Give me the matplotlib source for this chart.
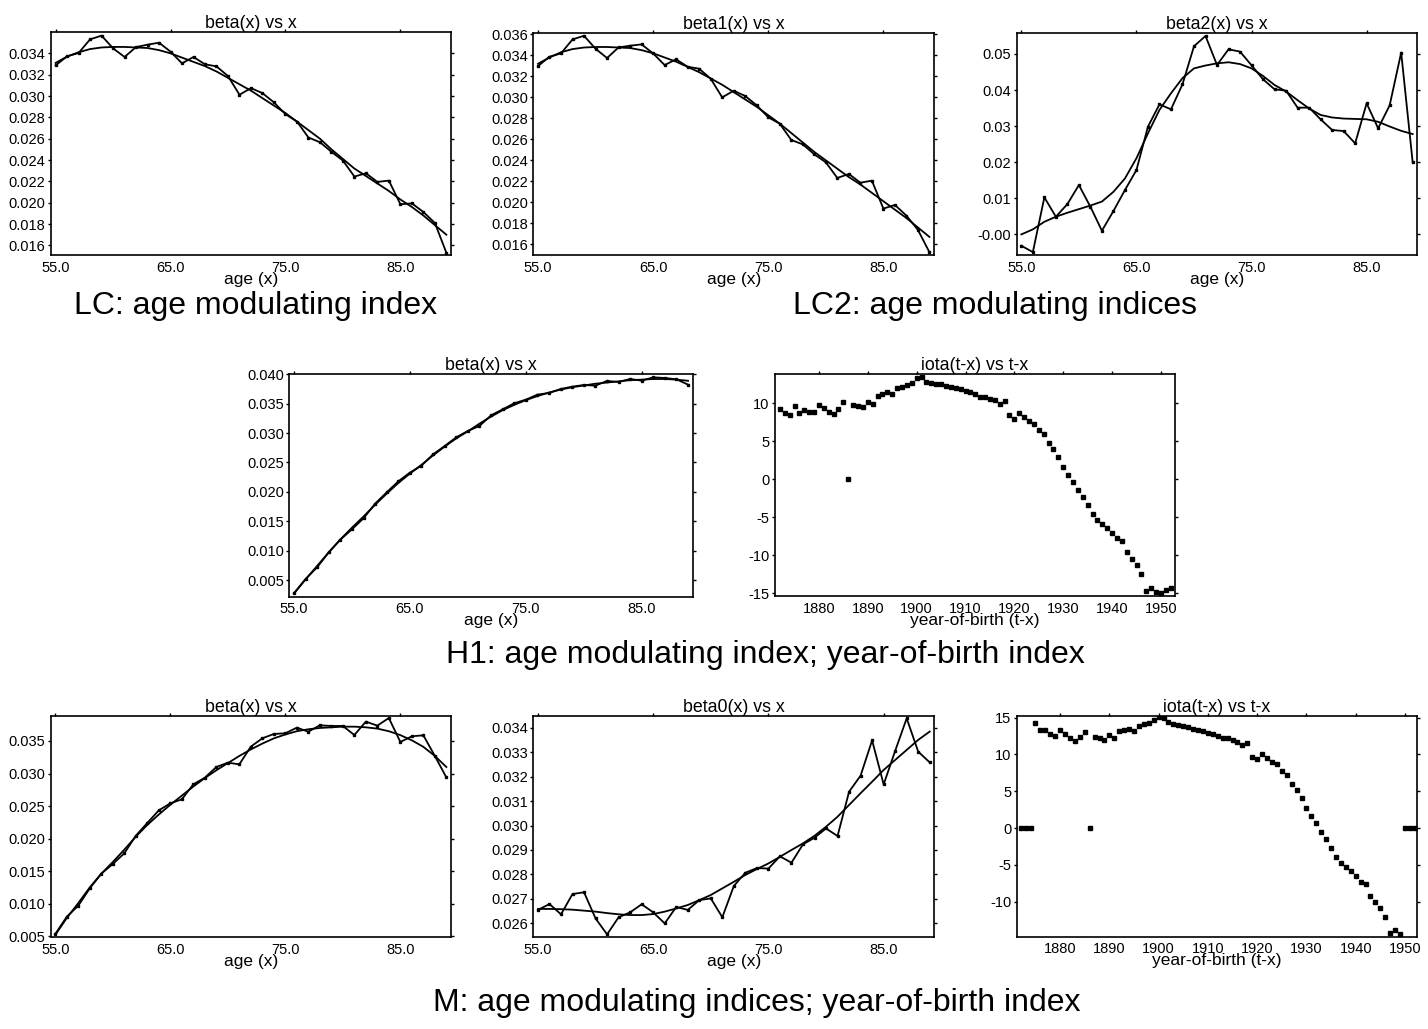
import matplotlib
matplotlib.use("Agg")
from matplotlib import pyplot as plt

plt.rcParams['font.family'] = ['Liberation Sans', 'DejaVu Sans']
plt.rcParams['axes.unicode_minus'] = False

ages = list(range(55, 90))
cohorts = list(range(1872, 1953))

# LC: beta(x)
lc_beta = [0.03287, 0.03372, 0.03403, 0.03531, 0.03566, 0.03447, 0.03366, 0.03459, 0.03481, 0.03500,
           0.03416, 0.03306, 0.03366, 0.03297, 0.03278, 0.03187, 0.03012, 0.03074, 0.03027, 0.02940,
           0.02830, 0.02761, 0.02611, 0.02567, 0.02477, 0.02395, 0.02245, 0.02276, 0.02195, 0.02207,
           0.01985, 0.01994, 0.01913, 0.01810, 0.01531]
lc_beta_fit = [0.0331, 0.0337, 0.0341, 0.0344, 0.03455, 0.0346, 0.0346, 0.03455, 0.0345, 0.0343,
               0.0340, 0.0336, 0.0332, 0.0328, 0.0323, 0.0317, 0.0311, 0.0305, 0.0298, 0.0291,
               0.0284, 0.0276, 0.0268, 0.0260, 0.0250, 0.0241, 0.0232, 0.0225, 0.0218, 0.0211,
               0.0203, 0.0196, 0.0188, 0.0179, 0.0170]

# LC2: beta1(x), beta2(x)
lc2_beta1 = [0.03298, 0.03387, 0.03419, 0.03552, 0.03587, 0.03463, 0.03375, 0.03476, 0.03492, 0.03505,
             0.03419, 0.03308, 0.03362, 0.03292, 0.03273, 0.03178, 0.03000, 0.03063, 0.03013, 0.02924,
             0.02810, 0.02749, 0.02594, 0.02552, 0.02457, 0.02381, 0.02232, 0.02270, 0.02187, 0.02206,
             0.01940, 0.01975, 0.01873, 0.01737, 0.01524]
lc2_beta1_fit = [0.0332, 0.0338, 0.0343, 0.0346, 0.03475, 0.0348, 0.0348, 0.03475, 0.0347, 0.0345,
                 0.0342, 0.0338, 0.0334, 0.0329, 0.0324, 0.0318, 0.0312, 0.0305, 0.0298, 0.0291,
                 0.0283, 0.0275, 0.0266, 0.0257, 0.0248, 0.0240, 0.0232, 0.0224, 0.0217, 0.0209,
                 0.0201, 0.0193, 0.0185, 0.0176, 0.0167]
lc2_beta2 = [-0.00314, -0.0049, 0.01026, 0.0049, 0.0084, 0.01368, 0.00767, 0.00102, 0.00647, 0.01229,
             0.01784, 0.02985, 0.03604, 0.03466, 0.04159, 0.05213, 0.05499, 0.04695, 0.05129, 0.05065,
             0.04686, 0.04298, 0.04020, 0.03983, 0.03512, 0.03512, 0.03189, 0.02893, 0.02865, 0.02523,
             0.03632, 0.02939, 0.03577, 0.05037, 0.01996]
lc2_beta2_fit = [0.0000, 0.0014, 0.0035, 0.0049, 0.0060, 0.0070, 0.0080, 0.0091, 0.0118, 0.0155,
                 0.0211, 0.0280, 0.0345, 0.0391, 0.0433, 0.0460, 0.0468, 0.0474, 0.0477, 0.0472,
                 0.0460, 0.0439, 0.0414, 0.0396, 0.0372, 0.0349, 0.0331, 0.0324, 0.0321, 0.0320,
                 0.0319, 0.0312, 0.0299, 0.0287, 0.0278]

# H1: beta(x), iota(t-x)
h1_beta = [0.00273, 0.00517, 0.00716, 0.00971, 0.01186, 0.01362, 0.01550, 0.01799, 0.01992, 0.02179,
           0.02327, 0.02446, 0.02639, 0.02780, 0.02928, 0.03036, 0.03121, 0.03302, 0.03404, 0.03507,
           0.03569, 0.03654, 0.03682, 0.03750, 0.03790, 0.03818, 0.03807, 0.03887, 0.03870, 0.03921,
           0.03892, 0.03949, 0.03938, 0.03915, 0.03824]
h1_beta_fit = [0.0027, 0.0051, 0.0074, 0.0097, 0.0119, 0.0139, 0.0158, 0.0178, 0.0197, 0.0215,
               0.0231, 0.0246, 0.0262, 0.0277, 0.0291, 0.0303, 0.0316, 0.0328, 0.0339, 0.0348,
               0.0356, 0.0363, 0.0369, 0.0374, 0.0378, 0.0381, 0.0384, 0.0386, 0.0388, 0.0390,
               0.0391, 0.0392, 0.0392, 0.0391, 0.0389]
h1_iota = [9.25, 8.73, 8.42, 9.65, 8.73, 9.12, 8.9, 8.9, 9.74, 9.34,
           8.86, 8.6, 9.25, 10.22, 0.0, 9.78, 9.69, 9.52, 10.22, 9.96,
           11.0, 11.23, 11.54, 11.27, 11.97, 12.15, 12.41, 12.72, 13.29, 13.46,
           12.85, 12.72, 12.59, 12.5, 12.32, 12.15, 11.97, 11.84, 11.62, 11.54,
           11.18, 10.88, 10.83, 10.61, 10.48, 9.96, 10.26, 8.46, 7.89, 8.68,
           8.16, 7.68, 7.32, 6.54, 5.92, 4.82, 3.99, 2.89, 1.67, 0.61,
           -0.31, -1.45, -2.28, -3.42, -4.52, -5.39, -5.88, -6.36, -7.02, -7.76,
           -8.07, -9.6, -10.53, -11.32, -12.46, -14.65, -14.34, -14.87, -15.0, -14.56,
           -14.25]

# M: beta(x), beta0(x), iota(t-x)
m_beta = [0.00534, 0.0080, 0.00969, 0.01236, 0.01461, 0.0161, 0.01774, 0.02045, 0.0224, 0.02434,
          0.02542, 0.02603, 0.02834, 0.02936, 0.0310, 0.03167, 0.03141, 0.03413, 0.03541, 0.03608,
          0.03618, 0.03705, 0.03643, 0.03741, 0.03731, 0.03731, 0.03592, 0.03797, 0.03736, 0.03853,
          0.03485, 0.03572, 0.03587, 0.0327, 0.0294]
m_beta_fit = [0.0052, 0.0078, 0.0101, 0.0125, 0.0146, 0.0164, 0.0183, 0.0203, 0.0221, 0.0237,
              0.0252, 0.0266, 0.0280, 0.0293, 0.0305, 0.0316, 0.0327, 0.0337, 0.0346, 0.0354,
              0.0360, 0.0365, 0.0368, 0.0370, 0.0371, 0.0372, 0.0372, 0.0371, 0.0369, 0.0365,
              0.0359, 0.0351, 0.0341, 0.0327, 0.0310]
m_beta0 = [0.02655, 0.02679, 0.02637, 0.0272, 0.02727, 0.0262, 0.02555, 0.02625, 0.02645, 0.02678,
           0.02645, 0.0260, 0.02667, 0.02655, 0.02695, 0.02702, 0.02625, 0.02753, 0.02807, 0.02826,
           0.02824, 0.02874, 0.02848, 0.02923, 0.0295, 0.02988, 0.02957, 0.03138, 0.03204, 0.03348,
           0.03168, 0.03305, 0.03438, 0.03302, 0.03258]
m_beta0_fit = [0.02659, 0.02659, 0.02658, 0.02656, 0.02652, 0.02648, 0.02642, 0.02637, 0.02634, 0.02634,
               0.02638, 0.02648, 0.02661, 0.02675, 0.02695, 0.02716, 0.02743, 0.0277, 0.02798, 0.02822,
               0.02845, 0.02872, 0.0290, 0.02927, 0.02958, 0.02995, 0.03036, 0.03084, 0.03132, 0.03179,
               0.03227, 0.03268, 0.03309, 0.0335, 0.03384]
m_iota = [0.0, 0.0, 0.0, 14.23, 13.27, 13.27, 12.82, 12.5, 13.27, 12.82,
          12.18, 11.77, 12.36, 13.05, 0.0, 12.41, 12.18, 11.91, 12.59, 12.18,
          13.18, 13.27, 13.5, 13.18, 13.86, 14.09, 14.23, 14.64, 15.09, 15.0,
          14.41, 14.18, 14.05, 13.86, 13.73, 13.5, 13.36, 13.18, 12.95, 12.82,
          12.5, 12.18, 12.18, 11.91, 11.73, 11.27, 11.59, 9.64, 9.32, 10.0,
          9.55, 9.0, 8.64, 7.73, 7.18, 6.05, 5.18, 4.05, 2.73, 1.68,
          0.64, -0.55, -1.5, -2.73, -3.91, -4.77, -5.32, -5.82, -6.5, -7.27,
          -7.55, -9.18, -10.09, -10.91, -12.09, -14.32, -13.86, -14.45, 0.0, 0.0,
          0.0]

age_ticks = [55, 65, 75, 85]
year_ticks = [1880, 1890, 1900, 1910, 1920, 1930, 1940, 1950]


fig = plt.figure(figsize=(14.28, 10.29), dpi=100)


def setup(ax, title, xlabel):
    ax.set_title(title, fontsize=12.8, pad=3)
    ax.set_xlabel(xlabel, fontsize=12.5, labelpad=-2)
    ax.tick_params(axis='both', which='both', direction='out', labelsize=10.5,
                   top=True, right=True, length=2.5, width=1, pad=1.5)
    ax.tick_params(axis='x', which='both', bottom=False, pad=1.5)
    for s in ax.spines.values():
        s.set_linewidth(1.2)


def age_panel(rect, title, y, yfit, ylim, yticks, ylabels):
    ax = fig.add_axes(rect)
    ax.plot(ages, y, color='black', lw=1.3, marker='s', ms=2)
    ax.plot(ages, yfit, color='black', lw=1.3)
    ax.set_xlim(54.6, 89.4)
    ax.set_ylim(*ylim)
    ax.set_xticks(age_ticks)
    ax.set_xticklabels(["%.1f" % a for a in age_ticks])
    ax.set_yticks(yticks)
    ax.set_yticklabels(ylabels)
    setup(ax, title, "age (x)")
    return ax


def iota_panel(rect, title, y, xlim, ylim, yticks):
    ax = fig.add_axes(rect)
    ax.plot(cohorts, y, linestyle='none', color='black', marker='s', ms=2.2)
    ax.set_xlim(*xlim)
    ax.set_ylim(*ylim)
    ax.set_xticks(year_ticks)
    ax.set_yticks(yticks)
    setup(ax, title, "year-of-birth (t-x)")
    return ax


t1 = [0.016, 0.018, 0.020, 0.022, 0.024, 0.026, 0.028, 0.030, 0.032, 0.034]
age_panel([0.0357, 0.7522, 0.2801, 0.2167], "beta(x) vs x", lc_beta, lc_beta_fit,
          (0.0151, 0.0360), t1, ["%.3f" % v for v in t1])

t2 = t1 + [0.036]
age_panel([0.3735, 0.7522, 0.2806, 0.2157], "beta1(x) vs x", lc2_beta1, lc2_beta1_fit,
          (0.01498, 0.03613), t2, ["%.3f" % v for v in t2])

t3 = [0.0, 0.01, 0.02, 0.03, 0.04, 0.05]
age_panel([0.7120, 0.7522, 0.2805, 0.2157], "beta2(x) vs x", lc2_beta2, lc2_beta2_fit,
          (-0.0057, 0.0558), t3, ["-0.00", "0.01", "0.02", "0.03", "0.04", "0.05"])

t4 = [0.005, 0.010, 0.015, 0.020, 0.025, 0.030, 0.035, 0.040]
age_panel([0.2026, 0.4201, 0.2825, 0.2167], "beta(x) vs x", h1_beta, h1_beta_fit,
          (0.00216, 0.0401), t4, ["%.3f" % v for v in t4])

iota_panel([0.5429, 0.4208, 0.2799, 0.2157], "iota(t-x) vs t-x", h1_iota,
           (1871.06, 1952.87), (-15.35, 13.86), [-15, -10, -5, 0, 5, 10])

t6 = [0.005, 0.010, 0.015, 0.020, 0.025, 0.030, 0.035]
age_panel([0.0355, 0.0891, 0.2803, 0.2154], "beta(x) vs x", m_beta, m_beta_fit,
          (0.00483, 0.03889), t6, ["%.3f" % v for v in t6])

t7 = [0.026, 0.027, 0.028, 0.029, 0.030, 0.031, 0.032, 0.033, 0.034]
age_panel([0.3735, 0.0891, 0.2808, 0.2154], "beta0(x) vs x", m_beta0, m_beta0_fit,
          (0.02543, 0.03449), t7, ["%.3f" % v for v in t7])

iota_panel([0.7120, 0.0897, 0.2805, 0.2148], "iota(t-x) vs t-x", m_iota,
           (1871.2, 1952.5), (-14.77, 15.27), [-10, -5, 0, 5, 10, 15])

fig.text(256 / 1428, 1 - 306 / 1029, "LC: age modulating index", fontsize=23, ha='center', va='center')
fig.text(995 / 1428, 1 - 306 / 1029, "LC2: age modulating indices", fontsize=23, ha='center', va='center')
fig.text(765 / 1428, 1 - 655 / 1029, "H1: age modulating index; year-of-birth index", fontsize=23,
         ha='center', va='center')
fig.text(757 / 1428, 1 - 1003 / 1029, "M: age modulating indices; year-of-birth index", fontsize=23,
         ha='center', va='center')

plt.savefig("out.png", dpi=100)
